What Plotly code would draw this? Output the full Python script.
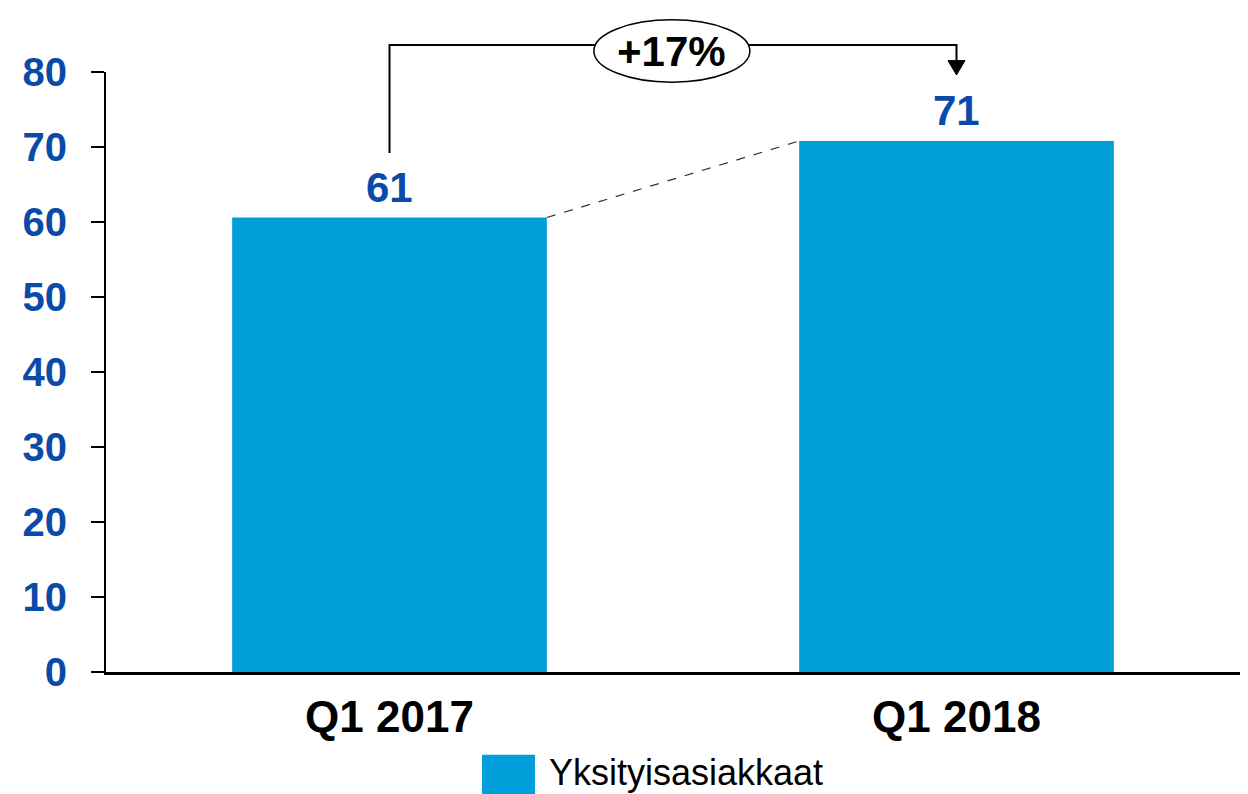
import plotly.graph_objects as go

categories = ["Q1 2017", "Q1 2018"]
values = [60.6, 70.8]
value_labels = ["61", "71"]
series_name = "Yksityisasiakkaat"
change_label = "+17%"
y_ticks = [0, 10, 20, 30, 40, 50, 60, 70, 80]

BAR = "#009FDA"
BLUE = "#0A4BAA"
FONT = "Arial, Liberation Sans, sans-serif"
bar_w = 0.555

fig = go.Figure()
fig.add_trace(go.Bar(
    x=categories, y=values, name=series_name, width=bar_w,
    marker=dict(color=BAR, line=dict(width=0)), showlegend=False,
    hoverinfo="x+y",
))

# value labels
for c, v, t in zip(categories, values, value_labels):
    fig.add_annotation(x=c, y=v, text=f"<b>{t}</b>", showarrow=False,
                       yanchor="bottom", yshift=5,
                       font=dict(family=FONT, size=42, color=BLUE))

# dashed connector between bar tops
fig.add_shape(type="line", xref="x", yref="y",
              x0=0 + bar_w / 2, y0=values[0], x1=1 - bar_w / 2, y1=values[1],
              line=dict(color="#333333", width=1.2, dash="dash"))

# bracket (paper coords; x centres of categories)
n = len(categories)
xa = 0.5 / n
xb = 1.5 / n
y_top = 1.045
fig.add_shape(type="path", xref="paper", yref="paper",
              path=f"M {xa},0.865 L {xa},{y_top} L {xb},{y_top} L {xb},1.015",
              line=dict(color="black", width=2))
fig.add_shape(type="path", xref="paper", yref="paper",
              path=f"M {xb-0.0075},1.019 L {xb+0.0075},1.019 L {xb},0.995 Z",
              fillcolor="black", line=dict(color="black", width=1))
# ellipse with change label
ecx, ecy = 0.499, 1.035
fig.add_shape(type="circle", xref="paper", yref="paper",
              x0=ecx - 0.0688, x1=ecx + 0.0688, y0=ecy - 0.052, y1=ecy + 0.052,
              fillcolor="white", line=dict(color="black", width=1.5))
fig.add_annotation(xref="paper", yref="paper", x=ecx, y=ecy,
                   xanchor="center", yanchor="middle",
                   text=f"<b>{change_label}</b>", showarrow=False,
                   font=dict(family=FONT, size=42, color="black"))

# manual legend
fig.add_shape(type="rect", xref="paper", yref="paper",
              x0=0.3316, x1=0.3783, y0=-0.138, y1=-0.22,
              fillcolor=BAR, line=dict(width=0))
fig.add_annotation(xref="paper", yref="paper", x=0.3895, y=-0.167,
                   xanchor="left", yanchor="middle", showarrow=False,
                   borderpad=0,
                   text=series_name,
                   font=dict(family=FONT, size=36, color="black"))

fig.update_layout(
    width=1240, height=786,
    margin=dict(l=98, r=8, t=64, b=122),
    paper_bgcolor="white", plot_bgcolor="white",
    font=dict(family=FONT),
    xaxis=dict(
        showline=True, linecolor="black", linewidth=2.5,
        ticks="", showgrid=False, zeroline=False,
        tickfont=dict(family=FONT, size=44, color="black", weight="bold"),
        ticklabelstandoff=4,
    ),
    yaxis=dict(
        range=[0, 80], tickvals=y_ticks,
        showline=True, linecolor="black", linewidth=2,
        ticks="outside", ticklen=13, tickwidth=2, tickcolor="black",
        showgrid=False, zeroline=False,
        tickfont=dict(family=FONT, size=40, color=BLUE, weight="bold"),
        ticklabelstandoff=16,
    ),
)

fig.write_html("out.html")
